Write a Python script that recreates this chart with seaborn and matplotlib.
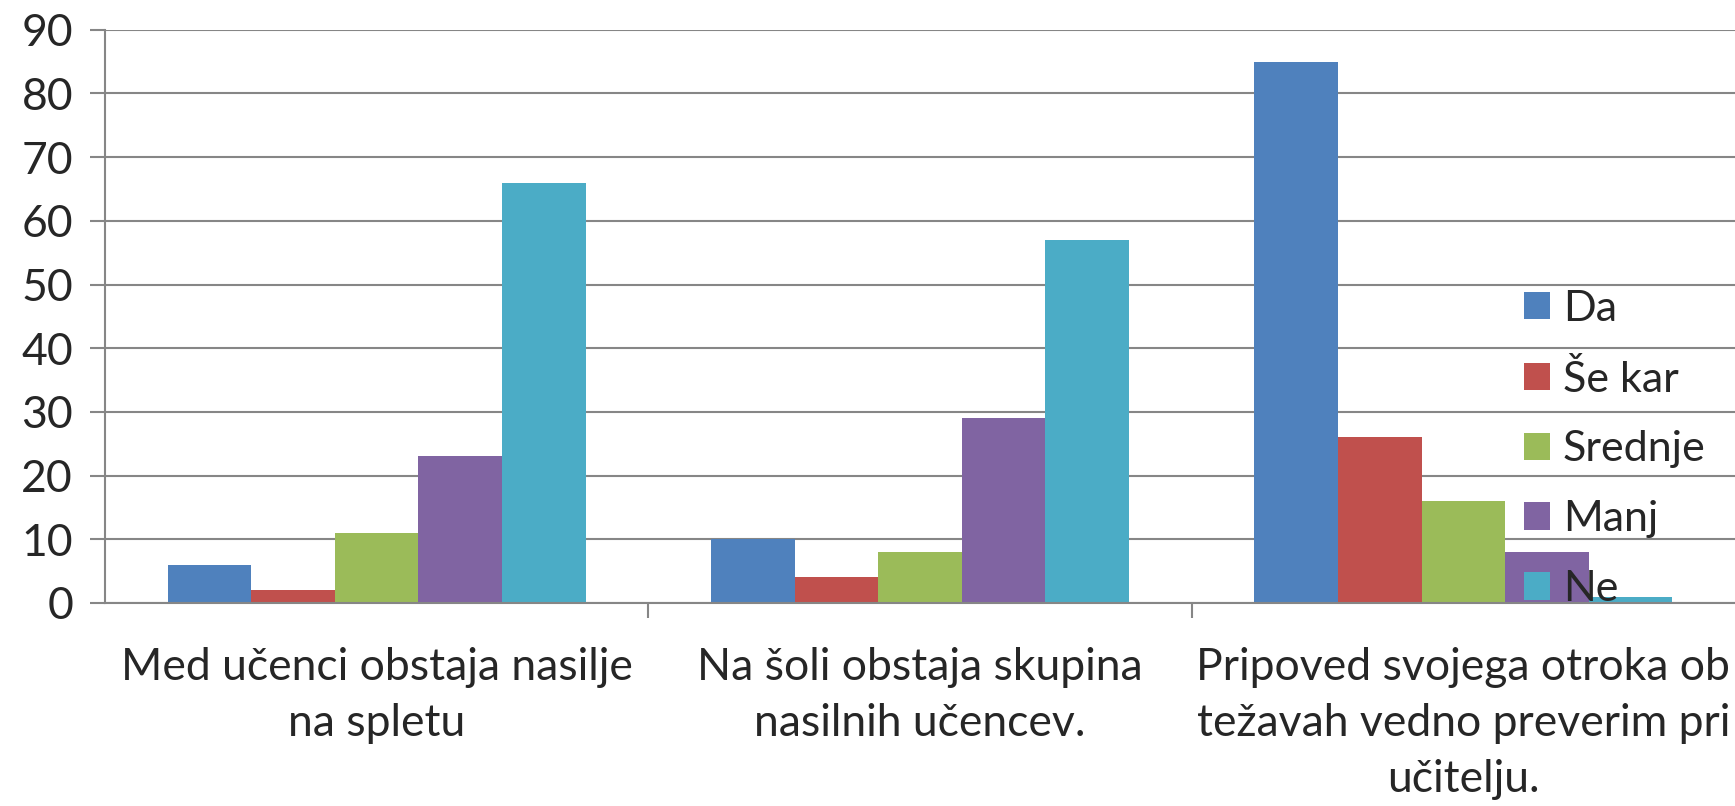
import matplotlib
matplotlib.use("Agg")
import matplotlib.pyplot as plt
import seaborn as sns
import pandas as pd

# podatki
kategorije = ["Med učenci obstaja nasilje\nna spletu",
              "Na šoli obstaja skupina\nnasilnih učencev.",
              "Pripoved svojega otroka ob\ntežavah vedno preverim pri\nučitelju."]
odgovori = ["Da", "Še kar", "Srednje", "Manj", "Ne"]
da = [6, 10, 85]
se_kar = [2, 4, 26]
srednje = [11, 8, 16]
manj = [23, 29, 8]
ne = [66, 57, 1]
barve = ["#4F81BD", "#C0504D", "#9BBB59", "#8064A2", "#4BACC6"]

vrednosti = [da, se_kar, srednje, manj, ne]
vrstice = []
for odg, serija in zip(odgovori, vrednosti):
    for kat, v in zip(kategorije, serija):
        vrstice.append({"Kategorija": kat, "Odgovor": odg, "Vrednost": v})
df = pd.DataFrame(vrstice)

sns.set_style("white")
plt.rcParams["font.family"] = ["Lato", "DejaVu Sans"]

fig = plt.figure(figsize=(17.35, 8.06), dpi=100)
ax = fig.add_axes([0.0605, 0.252, 0.9395, 0.711])

sns.barplot(data=df, x="Kategorija", y="Vrednost", hue="Odgovor",
            hue_order=odgovori, palette=barve, width=5 / 6.5, saturation=1,
            linewidth=0, ax=ax, legend=True)

ax.set_ylim(0, 90)
ax.set_xlim(-0.5, 2.5)
ax.set_yticks(range(0, 91, 10))
ax.yaxis.grid(True, color="#868686", linewidth=1.5)
ax.set_axisbelow(True)
ax.set_xlabel("")
ax.set_ylabel("")

for s in ["top", "right"]:
    ax.spines[s].set_visible(False)
ax.spines["left"].set_color("#868686")
ax.spines["left"].set_linewidth(1.5)
ax.spines["bottom"].set_color("#868686")
ax.spines["bottom"].set_linewidth(1.5)

ax.tick_params(axis="y", direction="out", length=11, width=1.5, color="#868686",
               labelsize=32, pad=12, left=True)
ax.tick_params(axis="x", which="major", length=0, labelsize=32, pad=32)
ax.set_xticks([0.5, 1.5], minor=True)
ax.tick_params(axis="x", which="minor", direction="out", length=11, width=1.5,
               color="#868686", bottom=True)
for lab in ax.get_xticklabels():
    lab.set_linespacing(1.45)

ax.legend(loc="center left", bbox_to_anchor=(0.866, 0.443), bbox_transform=fig.transFigure,
          frameon=False, fontsize=31, handlelength=0.6, handleheight=0.6,
          handletextpad=0.3, labelspacing=0.74, borderpad=0)

fig.savefig("out.png", dpi=100)
